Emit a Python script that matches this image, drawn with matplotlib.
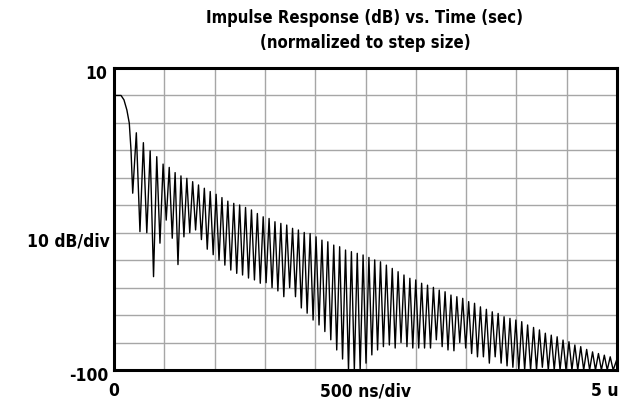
import matplotlib
matplotlib.use('Agg')
import matplotlib.pyplot as plt
from matplotlib import font_manager
import numpy as np

# ---------------- data (time in microseconds, level in dB) ----------------
main_lobe_t = [0.0, 0.070, 0.099, 0.128, 0.152, 0.169]
main_lobe_db = [0.0, 0.0, -1.6, -5.3, -10.1, -19.9]

null_t = [0.186, 0.258, 0.326, 0.393, 0.457, 0.519, 0.579, 0.636, 0.695, 0.753,
          0.811, 0.869, 0.927, 0.986, 1.044, 1.102, 1.161, 1.220, 1.278, 1.337,
          1.396, 1.454, 1.512, 1.571, 1.629, 1.688, 1.746, 1.804, 1.862, 1.920,
          1.979, 2.038, 2.096, 2.155, 2.214, 2.272, 2.331, 2.389, 2.447, 2.505,
          2.563, 2.620, 2.678, 2.737, 2.795, 2.853, 2.912, 2.970, 3.029, 3.087,
          3.146, 3.204, 3.262, 3.320, 3.379, 3.437, 3.496, 3.555, 3.613, 3.672,
          3.731, 3.789, 3.848, 3.907, 3.965, 4.024, 4.082, 4.141, 4.200, 4.258,
          4.317, 4.376, 4.434, 4.493, 4.552, 4.610, 4.669, 4.728, 4.786, 4.845,
          4.903, 4.962]

null_db = [-35.6, -49.6, -50.0, -66.0, -53.8, -45.4, -52.0, -61.6, -51.5, -50.0,
           -49.0, -52.5, -56.0, -58.0, -60.0, -61.8, -63.6, -64.8, -65.4, -66.5,
           -67.2, -68.4, -68.2, -70.0, -71.2, -73.3, -70.0, -73.3, -77.4, -79.3,
           -81.8, -83.6, -86.0, -89.0, -92.7, -96.0, -100.0, -100.0, -100.0, -97.5,
           -94.5, -92.7, -91.5, -90.9, -92.0, -90.0, -91.5, -92.0, -92.0, -92.0,
           -92.0, -89.0, -91.5, -92.7, -93.0, -90.0, -92.0, -94.0, -95.2, -95.2,
           -97.5, -95.2, -97.5, -98.5, -99.0, -100.0, -100.0, -100.0, -100.0, -99.0,
           -100.0, -100.0, -100.0, -100.0, -100.0, -100.0, -100.0, -100.0, -100.0, -100.0,
           -100.0, -100.0]

peak_db = [-13.6, -17.2, -20.2, -22.3, -25.0, -26.2, -28.1, -29.3, -30.2,
           -31.4, -32.6, -33.8, -35.0, -36.0, -37.2, -38.5, -39.3, -39.9, -40.8, -41.7, -43.0,
           -44.2, -44.8, -46.0, -46.6, -47.2, -48.4, -49.0, -49.9, -50.3, -51.5, -52.7, -53.3,
           -54.5, -55.1, -56.3, -56.9, -57.5, -58.1, -59.0, -59.9, -60.6, -61.8, -63.0, -64.2,
           -65.4, -66.6, -67.2, -68.4, -69.1, -69.9, -70.9, -71.5, -72.7, -73.3, -73.9, -75.1,
           -75.7, -77.0, -77.9, -78.8, -79.4, -80.6, -81.2, -81.8, -82.4, -83.6, -84.5, -85.4,
           -86.6, -87.3, -87.9, -89.1, -89.7, -90.9, -91.5, -92.5, -93.4, -94.0, -94.6,
           -95.2]

tail_t = [5.0]
tail_db = [-96.0]

x_grid = [0.0, 0.5, 1.0, 1.5, 2.0, 2.5, 3.0, 3.5, 4.0, 4.5, 5.0]
y_grid = [10, 0, -10, -20, -30, -40, -50, -60, -70, -80, -90, -100]

title_line1 = "Impulse Response (dB) vs. Time (sec)"
title_line2 = "(normalized to step size)"
y_top_label, y_mid_label, y_bot_label = "10", "10 dB/div", "-100"
x_left_label, x_mid_label, x_right_label = "0", "500 ns/div", "5 u"

# ---------------- build the trace ----------------
t_pts = list(main_lobe_t) + [null_t[0]]
d_pts = list(main_lobe_db) + [null_db[0]]
for k in range(len(null_t) - 1):
    t_pts.append(0.5 * (null_t[k] + null_t[k + 1]))
    d_pts.append(peak_db[k])
    t_pts.append(null_t[k + 1])
    d_pts.append(null_db[k + 1])
t_pts += tail_t
d_pts += tail_db

# ---------------- fonts ----------------
cond = None
for f in font_manager.fontManager.ttflist:
    if 'Condensed' in f.fname and 'Bold' in f.fname and 'Oblique' not in f.fname \
            and 'Italic' not in f.fname:
        cond = f.fname
        if 'DejaVu' in f.fname:
            break
if cond:
    fp = font_manager.FontProperties(fname=cond)
else:
    fp = font_manager.FontProperties(family='Roboto', weight='bold')

fig = plt.figure(figsize=(6.32, 4.07), dpi=100)
fig.patch.set_facecolor('white')
ax = fig.add_axes([114 / 632, 1 - 370 / 407, 503 / 632, 302 / 407])

for xv in x_grid:
    ax.axvline(xv, color='#a6a6a6', lw=1.0, zorder=1)
for yv in y_grid:
    ax.axhline(yv, color='#a6a6a6', lw=1.0, zorder=1)

ax.plot(t_pts, d_pts, color='#000000', lw=1.0, zorder=3, clip_on=True)

ax.set_xlim(0, 5)
ax.set_ylim(-100, 10)
ax.set_xticks([])
ax.set_yticks([])
for s in ax.spines.values():
    s.set_linewidth(2.2)
    s.set_color('black')
    s.set_zorder(5)

def put(x, y, s, ha, size):
    fig.text(x / 632, 1 - y / 407, s, ha=ha, va='center', fontproperties=fp, fontsize=size)

put(365, 18, title_line1, 'center', 12)
put(365, 43, title_line2, 'center', 12)
put(107, 74, y_top_label, 'right', 12.5)
put(110, 242, y_mid_label, 'right', 12.5)
put(108, 376, y_bot_label, 'right', 12.5)
put(114, 391, x_left_label, 'center', 12.5)
put(366, 391, x_mid_label, 'center', 12.5)
put(605, 391, x_right_label, 'center', 12.5)

fig.savefig('out.png', dpi=100, facecolor='white')
